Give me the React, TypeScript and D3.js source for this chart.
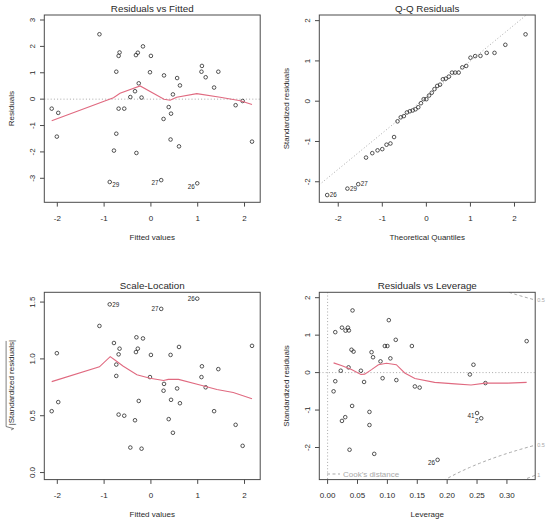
import { scaleLinear, line, range, quantile, ascending, extent } from 'd3'
import type { ReactNode } from 'react'

// Residuals vs Fitted / Scale-Location: one entry per observation, same order
const fittedValues = [
	-2.12, -1.98, -2.01, -1.1, -0.67, -0.69, -0.74, -0.69, -0.57, -0.74, -0.79, -0.88, -0.44, -0.34, -0.26, -0.32,
	-0.28, -0.17, -0.2, -0.31, -0.02, 0.0, 0.28, 0.38, 0.47, 0.27, 0.43, 0.42, 0.6, 0.22, 0.56, 0.62, 0.99, 1.09,
	1.08, 1.17, 1.44, 1.35, 1.81, 1.96, 2.16,
]
const residualValues = [
	-0.36, -0.52, -1.42, 2.46, 1.77, 1.64, 1.04, -0.36, -0.36, -1.31, -1.95, -3.14, 0.08, 0.3, 0.6, 1.67, 1.76, 2.0,
	0.06, -2.04, 1.02, 1.64, 0.9, -0.3, 0.18, -0.75, -0.55, -1.53, -1.79, -3.07, 0.8, 0.52, -3.19, 1.26, 1.04, 0.83,
	1.04, 0.44, -0.23, -0.07, -1.61,
]
const sqrtAbsStdResiduals = [
	0.54, 0.62, 1.05, 1.29, 1.09, 1.04, 0.85, 0.51, 0.5, 0.95, 1.14, 1.48, 0.22, 0.46, 0.63, 1.06, 1.09, 1.18, 0.21,
	1.19, 0.84, 1.035, 0.78, 0.47, 0.35, 0.72, 0.64, 1.035, 1.105, 1.44, 0.74, 0.61, 1.53, 0.935, 0.84, 0.75, 0.91,
	0.54, 0.42, 0.235, 1.115,
]
const fittedIds: Record<number, string> = { 11: '29', 29: '27', 32: '26' }

// red smoothers
const residSmoothX = [-2.12, -0.8, -0.66, -0.23, 0.28, 0.41, 0.55, 0.98, 1.48, 1.91, 2.16]
const residSmoothY = [-0.815, 0.056, 0.22, 0.5, -0.005, -0.04, 0.07, 0.21, 0.07, -0.06, -0.2]
const scaleSmoothX = [-2.12, -1.1, -0.87, -0.77, -0.59, -0.3, -0.02, 0.27, 0.37, 0.59, 1.05, 1.41, 1.76, 2.16]
const scaleSmoothY = [0.8, 0.93, 1.02, 0.99, 0.935, 0.86, 0.83, 0.81, 0.82, 0.82, 0.77, 0.73, 0.705, 0.65]
const leverageSmoothX = [
	0.01, 0.023, 0.04, 0.0557, 0.062, 0.0735, 0.085, 0.0985, 0.115, 0.129, 0.146, 0.179, 0.213, 0.24, 0.264, 0.302,
	0.333,
]
const leverageSmoothY = [
	0.26, 0.19, 0.08, -0.05, -0.04, 0.08, 0.21, 0.25, 0.21, -0.01, -0.16, -0.26, -0.3, -0.33, -0.28, -0.28, -0.26,
]

// Residuals vs Leverage
const leverageValues = [
	0.01, 0.0128, 0.0128, 0.022, 0.024, 0.024, 0.0295, 0.03, 0.034, 0.0356, 0.035, 0.0367, 0.0417, 0.04, 0.0434,
	0.041, 0.0557, 0.061, 0.07, 0.07, 0.0735, 0.076, 0.078, 0.0885, 0.092, 0.0957, 0.1, 0.1024, 0.105, 0.114, 0.115,
	0.141, 0.146, 0.154, 0.184, 0.238, 0.244, 0.25, 0.257, 0.264, 0.333,
]
const stdResiduals = [
	-0.5, -0.23, 1.08, 0.05, 1.2, -1.29, -1.19, 1.12, 1.2, 1.125, 0.14, -2.06, 1.66, 0.61, 0.56, -0.89, 0.05, -0.25,
	-1.05, -1.4, 0.545, 0.41, -2.17, 0.3, -0.15, 0.71, 0.71, 1.4, 0.38, 0.875, -0.2, 0.71, -0.37, -0.4, -2.33, -0.05,
	0.21, -1.08, -1.22, -0.28, 0.84,
]
const leverageIds: Record<number, string> = { 11: '27', 22: '29', 34: '26', 37: '41', 38: '2' }
const cookLabelled = [34, 37, 38]
const cookLevels = [0.5, 1]
const modelParams = 4

// normal quantiles, ppoints(41)
const theoreticalQuantiles = [
	-2.2509, -1.7921, -1.5464, -1.3696, -1.2275, -1.1077, -1.0007, -0.9044, -0.8159, -0.7331, -0.6551, -0.5817,
	-0.5105, -0.4418, -0.3752, -0.3104, -0.2464, -0.184, -0.1226, -0.0612, 0, 0.0612, 0.1226, 0.184, 0.2464, 0.3104,
	0.3752, 0.4418, 0.5105, 0.5817, 0.6551, 0.7331, 0.8159, 0.9044, 1.0007, 1.1077, 1.2275, 1.3696, 1.5464, 1.7921,
	2.2509,
]
const qnorm75 = 0.6745

// axis ticks
const fittedTicks = [-2, -1, 0, 1, 2]
const residTicks = [-3, -2, -1, 0, 1, 2, 3]
const quantileTicks = [-2, -1, 0, 1, 2]
const stdTicks = [-2, -1, 0, 1, 2]
const scaleTicks = [0, 0.5, 1, 1.5]
const leverageTicks = [0, 0.05, 0.1, 0.15, 0.2, 0.25, 0.3]

const W = 215.9
const H = 187.3
const FONT = 'Liberation Sans, Arial, Helvetica, sans-serif'
const INK = '#2a2a2a'
const FRAME = '#4a4a4a'
const SMOOTH = '#E06A80'
const GUIDE = '#a8a8a8'

type Lin = ReturnType<typeof scaleLinear<number, number>>

interface PanelProps {
	id: string
	left: number
	top: number
	title: string
	xLabel: string
	yLabel: ReactNode
	xDomain: [number, number]
	yDomain: [number, number]
	xTicks: number[]
	yTicks: number[]
	xFormat?: (v: number) => string
	yFormat?: (v: number) => string
	inside: (x: Lin, y: Lin) => ReactNode
	outside?: (x: Lin, y: Lin) => ReactNode
}

function Panel({
	id,
	left,
	top,
	title,
	xLabel,
	yLabel,
	xDomain,
	yDomain,
	xTicks,
	yTicks,
	xFormat = String,
	yFormat = String,
	inside,
	outside,
}: PanelProps) {
	const x = scaleLinear().domain(xDomain).range([0, W])
	const y = scaleLinear().domain(yDomain).range([H, 0])
	return (
		<g transform={`translate(${left},${top})`}>
			<clipPath id={`clip-${id}`}>
				<rect width={W} height={H} />
			</clipPath>
			<g clipPath={`url(#clip-${id})`}>{inside(x, y)}</g>
			{outside?.(x, y)}
			<rect width={W} height={H} fill="none" stroke={FRAME} strokeWidth={1} />
			{xTicks.map((t) => (
				<g key={`x${t}`}>
					<line x1={x(t)} x2={x(t)} y1={H} y2={H + 4.3} stroke={FRAME} />
					<text x={x(t)} y={H + 15.7} dy="0.35em" textAnchor="middle" fontSize={8}>
						{xFormat(t)}
					</text>
				</g>
			))}
			{yTicks.map((t) => (
				<g key={`y${t}`}>
					<line x1={-4.3} x2={0} y1={y(t)} y2={y(t)} stroke={FRAME} />
					<text
						transform={`translate(-12, ${y(t)}) rotate(-90)`}
						dy="0.35em"
						textAnchor="middle"
						fontSize={8}
					>
						{yFormat(t)}
					</text>
				</g>
			))}
			<text x={W / 2} y={-6.8} dy="0.35em" textAnchor="middle" fontSize={9.8}>
				{title}
			</text>
			<text x={W / 2} y={H + 35} dy="0.35em" textAnchor="middle" fontSize={8}>
				{xLabel}
			</text>
			<g transform={`translate(-33.6, ${H / 2}) rotate(-90)`}>{yLabel}</g>
		</g>
	)
}

function Points({ xs, ys, x, y }: { xs: number[]; ys: number[]; x: Lin; y: Lin }) {
	return (
		<g>
			{xs.map((v, i) => (
				<circle key={i} cx={x(v)} cy={y(ys[i])} r={1.8} fill="none" stroke={INK} strokeWidth={0.8} />
			))}
		</g>
	)
}

function Smooth({ xs, ys, x, y }: { xs: number[]; ys: number[]; x: Lin; y: Lin }) {
	const path = line<number>()
		.x((v) => x(v))
		.y((_, i) => y(ys[i]))(xs)
	return <path d={path ?? ''} fill="none" stroke={SMOOTH} strokeWidth={1.1} />
}

function IdLabel({ px, py, text, side, drop = 0 }: { px: number; py: number; text: string; side: 'left' | 'right'; drop?: number }) {
	return (
		<text
			x={side === 'right' ? px + 2.6 : px - 2.6}
			y={py + drop}
			dy="0.35em"
			textAnchor={side === 'right' ? 'start' : 'end'}
			fontSize={6.3}
		>
			{text}
		</text>
	)
}

function labelSide(v: number, values: number[]): 'left' | 'right' {
	const [lo, hi] = extent(values) as [number, number]
	return v > (lo + hi) / 2 ? 'left' : 'right'
}

function SimpleYLabel({ text }: { text: string }) {
	return (
		<text dy="0.35em" textAnchor="middle" fontSize={8}>
			{text}
		</text>
	)
}

function SqrtYLabel() {
	const body = '|Standardized residuals|'
	const half = 44
	return (
		<g>
			<text x={-half + 4.6} dy="0.35em" textAnchor="start" fontSize={8}>
				{body}
			</text>
			<polyline
				points={`${-half},0.4 ${-half + 1.3},3 ${-half + 3.4},-4.6 ${half + 1},-4.6`}
				fill="none"
				stroke={INK}
				strokeWidth={0.6}
			/>
		</g>
	)
}

export default function App() {
	const sortedStd = [...stdResiduals].sort(ascending)
	const order = range(stdResiduals.length).sort((a, b) => stdResiduals[a] - stdResiduals[b])
	const q1 = quantile(sortedStd, 0.25) ?? 0
	const q3 = quantile(sortedStd, 0.75) ?? 0
	const qqSlope = (q3 - q1) / (2 * qnorm75)
	const qqIntercept = q1 + qnorm75 * qqSlope

	const levDomain: [number, number] = [-0.0139, 0.3473]
	const [levMin, levMax] = extent(leverageValues) as [number, number]
	const hStart = Math.min(levMin, levMax / 100)
	const hGrid = range(101).map((i) => hStart + ((levDomain[1] - hStart) * i) / 100)
	const xmax = Math.min(0.99, levDomain[1])

	return (
		<div style={{ position: 'absolute', left: 0, top: 0, width: 550, height: 522, background: '#fff' }}>
			<svg width={550} height={522} fontFamily={FONT} fill={INK} style={{ display: 'block' }}>
				<Panel
					id="rf"
					left={44.3}
					top={15}
					title="Residuals vs Fitted"
					xLabel="Fitted values"
					yLabel={<SimpleYLabel text="Residuals" />}
					xDomain={[-2.278, 2.335]}
					yDomain={[-3.91, 3.19]}
					xTicks={fittedTicks}
					yTicks={residTicks}
					inside={(x, y) => (
						<>
							<line x1={0} x2={W} y1={y(0)} y2={y(0)} stroke={GUIDE} strokeDasharray="1,2.2" />
							<Points xs={fittedValues} ys={residualValues} x={x} y={y} />
							<Smooth xs={residSmoothX} ys={residSmoothY} x={x} y={y} />
						</>
					)}
					outside={(x, y) =>
						Object.entries(fittedIds).map(([k, id]) => {
							const i = +k
							return (
								<IdLabel
									key={id}
									px={x(fittedValues[i])}
									py={y(residualValues[i])}
									text={id}
									side={labelSide(fittedValues[i], fittedValues)}
									drop={residualValues[i] < 0 ? 3 : 0}
								/>
							)
						})
					}
				/>
				<Panel
					id="qq"
					left={319.3}
					top={15}
					title="Q-Q Residuals"
					xLabel="Theoretical Quantiles"
					yLabel={<SimpleYLabel text="Standardized residuals" />}
					xDomain={[-2.43, 2.47]}
					yDomain={[-2.51, 2.14]}
					xTicks={quantileTicks}
					yTicks={stdTicks}
					inside={(x, y) => (
						<>
							<line
								x1={0}
								x2={W}
								y1={y(qqIntercept + qqSlope * x.domain()[0])}
								y2={y(qqIntercept + qqSlope * x.domain()[1])}
								stroke={GUIDE}
								strokeDasharray="1,2.2"
							/>
							<Points xs={theoreticalQuantiles} ys={sortedStd} x={x} y={y} />
						</>
					)}
					outside={(x, y) =>
						order.slice(0, 3).map((obs, rank) => (
							<IdLabel
								key={obs}
								px={x(theoreticalQuantiles[rank])}
								py={y(sortedStd[rank])}
								text={leverageIds[obs]}
								side="right"
							/>
						))
					}
				/>
				<Panel
					id="sl"
					left={44.3}
					top={292.3}
					title="Scale-Location"
					xLabel="Fitted values"
					yLabel={<SqrtYLabel />}
					xDomain={[-2.278, 2.335]}
					yDomain={[-0.062, 1.586]}
					xTicks={fittedTicks}
					yTicks={scaleTicks}
					yFormat={(v) => v.toFixed(1)}
					inside={(x, y) => (
						<>
							<Points xs={fittedValues} ys={sqrtAbsStdResiduals} x={x} y={y} />
							<Smooth xs={scaleSmoothX} ys={scaleSmoothY} x={x} y={y} />
						</>
					)}
					outside={(x, y) =>
						Object.entries(fittedIds).map(([k, id]) => {
							const i = +k
							return (
								<IdLabel
									key={id}
									px={x(fittedValues[i])}
									py={y(sqrtAbsStdResiduals[i])}
									text={id}
									side={labelSide(fittedValues[i], fittedValues)}
								/>
							)
						})
					}
				/>
				<Panel
					id="rl"
					left={319.3}
					top={292.3}
					title="Residuals vs Leverage"
					xLabel="Leverage"
					yLabel={<SimpleYLabel text="Standardized residuals" />}
					xDomain={levDomain}
					yDomain={[-2.857, 2.144]}
					xTicks={leverageTicks}
					yTicks={stdTicks}
					xFormat={(v) => v.toFixed(2)}
					inside={(x, y) => (
						<>
							<line x1={0} x2={W} y1={y(0)} y2={y(0)} stroke={GUIDE} strokeDasharray="1,2.2" />
							<line x1={x(0)} x2={x(0)} y1={0} y2={H} stroke={GUIDE} strokeDasharray="1,2.2" />
							<Points xs={leverageValues} ys={stdResiduals} x={x} y={y} />
							<Smooth xs={leverageSmoothX} ys={leverageSmoothY} x={x} y={y} />
							{cookLevels.flatMap((level) =>
								[1, -1].map((sign) => {
									const d = line<number>()
										.x((h) => x(h))
										.y((h) => y(sign * Math.sqrt((level * modelParams * (1 - h)) / h)))(hGrid)
									return (
										<path
											key={`${level}${sign}`}
											d={d ?? ''}
											fill="none"
											stroke={GUIDE}
											strokeWidth={1}
											strokeDasharray="3,2.5"
										/>
									)
								}),
							)}
							<line x1={7.7} x2={20.7} y1={181.7} y2={181.7} stroke={GUIDE} strokeDasharray="3,2.5" />
							<text x={23.7} y={181.7} dy="0.35em" fontSize={8} fill={GUIDE}>
								Cook's distance
							</text>
						</>
					)}
					outside={(x, y) => (
						<>
							{cookLevels.flatMap((level) =>
								[1, -1].map((sign) => {
									const v = sign * Math.sqrt((level * modelParams * (1 - xmax)) / xmax)
									const [lo, hi] = y.domain()
									if (v < lo || v > hi) return null
									return (
										<text
											key={`${level}${sign}`}
											x={W + 2}
											y={y(v)}
											dy="0.35em"
											fontSize={5.5}
											fill={GUIDE}
										>
											{String(level)}
										</text>
									)
								}),
							)}
							{cookLabelled.map((i) => (
								<IdLabel
									key={i}
									px={x(leverageValues[i])}
									py={y(stdResiduals[i])}
									text={leverageIds[i]}
									side={labelSide(leverageValues[i], leverageValues)}
									drop={stdResiduals[i] < 0 ? 3 : 0}
								/>
							))}
						</>
					)}
				/>
			</svg>
		</div>
	)
}
